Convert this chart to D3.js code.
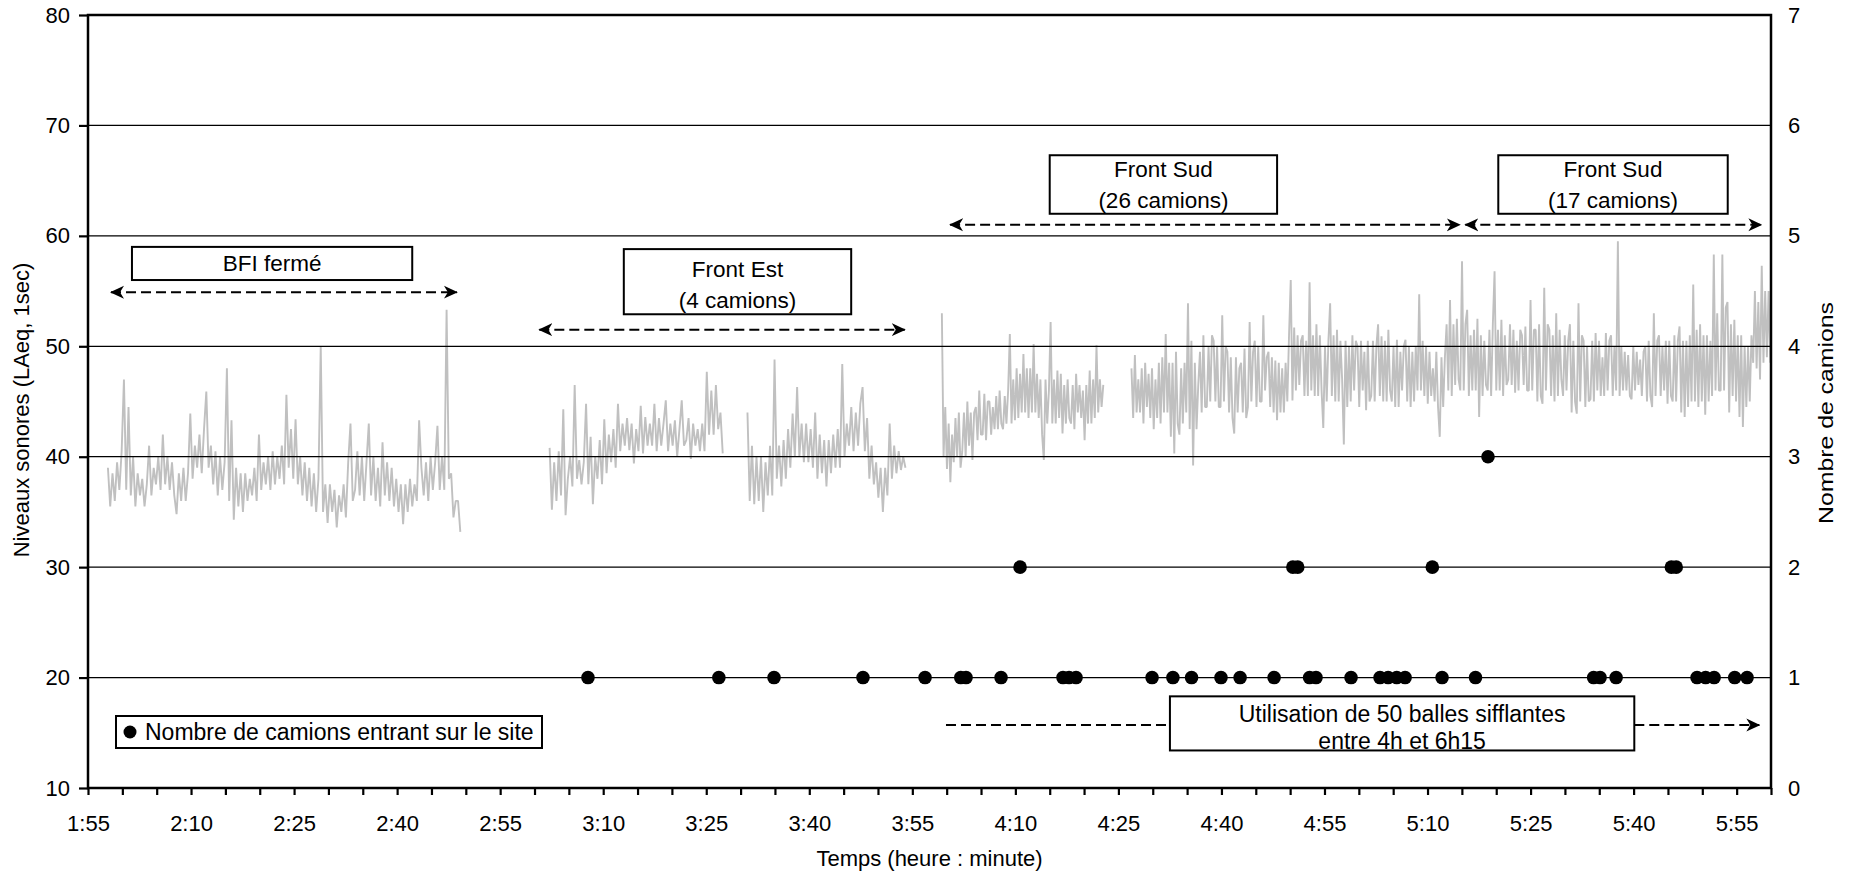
<!DOCTYPE html>
<html><head><meta charset="utf-8">
<script src="https://cdn.jsdelivr.net/npm/d3@7"></script>
<style>
html,body{margin:0;padding:0;background:#fff;}
svg{display:block;}
text{font-family:"Liberation Sans",Arial,Helvetica,sans-serif;fill:#000;}
</style></head><body>
<svg id="chart" width="1853" height="875"></svg>
<script>
// ---------- DATA ----------
const xTickLabels = ["1:55","2:10","2:25","2:40","2:55","3:10","3:25","3:40","3:55","4:10","4:25","4:40","4:55","5:10","5:25","5:40","5:55"];
const leftTicks = [10,20,30,40,50,60,70,80];
const rightTicks = [0,1,2,3,4,5,6,7];
const gridValues = [20,30,40,50,60,70];

const segmentStarts = ["1:57:54","3:02:12","3:31:00","3:59:18","4:26:54"];
const segmentEnds   = ["2:49:12","3:27:24","3:54:00","4:22:48","5:59:54"];

// readings, evenly spread over each period
const levels1 = [39,35.5,38.5, 36,39.5,37, 40.5,47,37, 44.5,36.5,40, 35.5,38.5,36.5, 38,35.5,37.5,
 41,36.5,39, 37.5,40,37, 42,37.5,40, 37,39.5,36.5, 34.8,38.5,36, 39,36,38.5, 43.9,38,41,
 39,42,38.5, 42.5,45.9,39, 41,37.5,40.5, 36.5,40,37, 39.5,48,36, 43.3,34.3,39, 35.5,38.5,35,
 38.5,36,38, 36.5,39,36, 42,37,39.5, 37.5,40,37, 40.5,37.5,40, 38,41,37.5, 45.6,39,42.5,
 38,43.4,37.5, 40,36.5,39.5, 36,39,35.5, 38.5,35,38, 50,35,37.5, 34,37.5,35, 37,33.6,36.5,
 35,37.5,34.5, 39.5,43,36, 37,40.5,36.5, 40,36,39.5, 43,36.5,40, 36,39,35.5, 41.3,36.5,39.5,
 36,39,35.5, 38,35,37.5, 33.9,37.5,35, 38,35.5,37.5, 36,43.3,39, 36.5,39.5,36, 40,37,39.5,
 42.8,37,40, 37,53.3,38, 38.5,34.5,36, 36,33.2];

const levels2 = [40.8,35.2,39.5, 36,40.5,36.5, 44.3,34.7,38, 40,37.3,46.5, 38,39.7,37.5, 39.5,44.8,37.5,
 41.8,35.7,40, 38,41.5,37.5, 43.4,38.5,42, 39.5,42.5,39, 44.8,40.5,43, 41,43.5,40.6, 43,39.4,42.5,
 40.5,44.6,40.3, 43.6,41,43, 41,44.8,40.5, 43.5,41,43, 45.1,40.5,43, 41,43.3,40, 42.5,45.1,41,
 41.5,43.5,39.8, 43,41,42.5, 40.5,43,40.5, 47.7,42,46, 42,46.5,42.5, 44,40.3];

const levels3 = [44,36,41, 35.7,40,36, 40,35,39.5, 36.5,41,36.5, 48.8,38,41, 37.3,41.5,38, 42.5,39,43.9,
 40,46.3,40, 43,39.5,43, 39.5,42.5,39, 44,38,42, 38.5,41.5,37.3, 41.5,38.5,42, 39,42.5,39,
 48.4,40,43, 41,44.5,40.5, 44,41,44.8, 46.3,40.5,43.5, 38,41,37.5, 39.5,36.3,39, 35,39,36.5,
 43,38,41, 38.5,40.5,38.8, 40,39];

const levels4 = [53,40,44.5,38.9, 43,37.7,42,39.5, 43.5,40,44,39, 40.5,44,40,45, 41,44,39.7,44,
 44.5,41.5,46,42, 42,45.7,41.5,45, 45,42,44.5,42.5, 45.5,42.5,46,43, 42.5,45.5,43,46,
 51.1,43,47,43.3, 48,43.5,47.5,44, 49.3,44,48,43.5, 48,44,50.2,44, 47.5,43.5,47,42,
 39.7,47,43,46, 52.2,43,47,43, 47.8,43.5,47.5,42.1, 46.5,43,47,43.5, 43,46.5,42.5,47.5,
 44,46.5,43.5,46, 41.5,46.5,43,47.8, 43,47,43.5,50.1, 44,47,44.5,46.5];

const levels5 = [48,43.5,49.2,44, 47,44,48,43, 48.5,44.5,47.5,43.5, 48,42.5,47,43.5, 48.5,43,49,44,
 51.1,44,48.5,41.8, 48.5,40.3,49.5,43, 42,48,43,48.5, 44,53.9,42.5,50.5, 39.2,48.5,42.5,46.5,
 49.5,44,51,44.5, 44.5,50,45,51, 50.5,45,50,44.5, 44.5,52.8,45,50, 49.5,44,49,43.5,
 42.1,49,44,48, 48.5,44,49.8,43.5, 44.5,52.2,45,49.5, 50.5,44.5,50,45, 45,52.8,46,49,
 49.5,44.5,49,44, 48.7,43.3,48.5,44, 48,44,48.5,45, 51,56,45.1,51.7, 46,51,46.5,50.5,
 51,45.5,50.5,45.5, 55.8,46,51,45.5, 52,45.5,51,46, 42.6,50,45,50.5, 53.9,45.5,51,45,
 51.5,45,50.5,47, 41.1,50.5,44.5,50, 45,51,46,50.5, 50,44.5,50.5,46, 49.5,44.2,50.5,45,
 45.5,50.5,45,50, 52,45.5,50.9,45, 50.5,45,51.5,46, 45,50,44.5,50.6, 44.5,49.5,46,50,
 50.6,45,50,44.5, 49.5,45,50,46, 54.7,46,50.5,45.5, 50,44.8,49.5,45.5, 48,45,49.5,44.5,
 41.8,49,44.5,49, 52,46,54.2,45.5, 52,46.5,52.5,47, 46,57.7,46,52, 53.3,45.5,51,46,
 51.5,46,52.5,43.6, 51,45.5,50.5,46.5, 46,51.5,45.5,52, 56.8,46,51.5,46, 52.4,45.5,51,46.5,
 47,52,46.5,51.5, 45.8,50.5,46,51.5, 51,46.5,51.8,46, 46,54.2,46,51.5, 51.5,45,52,45.5,
 44.8,55.3,46,52, 51.5,45.5,51,45, 53,45.5,51.5,47, 45.5,51,46,50.5, 52,44,50.5,45,
 43.9,53.9,45,51, 50.5,44.5,50,45, 45.2,50.5,45,51.2, 46,50.5,45.5,49, 45.5,51.2,46,50.5,
 51,45.5,50,46, 59.5,45.5,50,46, 49.5,46,49.2,45.5, 45.2,50,46,49.5, 46.5,48.8,45.5,49.5,
 50,45,50.5,45.5, 44.5,53,45.5,50.5, 51,45.5,50,46, 50.5,44.8,50.5,45.5, 45,51,45,50.5,
 51.8,44,50.5,43.6, 50.5,44.5,51,45, 55.6,45,51.5,44.5, 52,45,51,43.8, 51,45,50.5,45.5,
 58.3,46,53,46, 46,58.3,46,53.5, 54,44,52,45.5, 52.4,45,51,43.6, 51,42.7,50,44.5,
 50,45,51,48.5, 55,48,54,47, 57.3,48.5,55,49, 55,48.5];

// trucks entering the site
const truckTimes = ["3:07:47","3:26:50","3:34:52","3:47:49","3:56:51","4:02:03","4:02:49","4:07:55","4:10:41",
 "4:16:56","4:17:49","4:18:50","4:29:54","4:32:56","4:35:39","4:39:56","4:42:43","4:47:40","4:50:24","4:51:06",
 "4:52:50","4:53:46","4:58:52","5:03:05","5:04:16","5:05:31","5:06:44","5:10:42","5:12:07","5:16:59","5:18:48",
 "5:34:11","5:35:07","5:37:27","5:45:30","5:46:12","5:49:14","5:50:29","5:51:43","5:54:43","5:56:31"];
const truckCounts = [1,1,1,1,1,1,1,1,2, 1,1,1,1,1,1,1,1,1,2,2, 1,1,1,1,1,1,1,2,1,1,3, 1,1,1,2,2,1,1,1,1,1];

const noteTexts = [["BFI fermé"],["Front Est","(4 camions)"],["Front Sud","(26 camions)"],["Front Sud","(17 camions)"],["Utilisation de 50 balles sifflantes","entre 4h et 6h15"]];
const legendLabel = "Nombre de camions entrant sur le site";

// ---------- LAYOUT ----------
const m = {left:88, right:1771, top:15, bottom:788};
const parse = s => { const p = s.split(":").map(Number); return new Date(2000,0,1,p[0],p[1],p[2]||0); };
const x = d3.scaleTime().domain([parse("1:55"), parse("6:00")]).range([m.left, m.right]);
const yL = d3.scaleLinear().domain([10,80]).range([m.bottom, m.top]);
const yR = d3.scaleLinear().domain([0,7]).range([m.bottom, m.top]);

const svg = d3.select("#chart");
const defs = svg.append("defs");
defs.append("marker").attr("id","ah").attr("viewBox","0 0 14 14")
  .attr("refX",13).attr("refY",7).attr("markerWidth",14).attr("markerHeight",14)
  .attr("markerUnits","userSpaceOnUse").attr("orient","auto-start-reverse")
  .append("path").attr("d","M0,0.5 L14,7 L0,13.5 L4,7 Z").attr("fill","#000");

// noise level series
const levelArrays = [levels1,levels2,levels3,levels4,levels5];
const series = levelArrays.map((vals,k)=>{
  const t0 = +parse(segmentStarts[k]), t1 = +parse(segmentEnds[k]);
  return vals.map((v,i)=>({t:new Date(t0+(t1-t0)*i/(vals.length-1)), v}));
});
const line = d3.line().x(d=>x(d.t)).y(d=>yL(d.v));
svg.append("g").selectAll("path").data(series).join("path")
  .attr("d",line).attr("fill","none").attr("stroke","#c0c0c0").attr("stroke-width",1.9)
  .attr("stroke-linejoin","bevel");

// gridlines
svg.append("g").selectAll("line").data(gridValues).join("line")
  .attr("x1",m.left).attr("x2",m.right).attr("y1",d=>yL(d)).attr("y2",d=>yL(d))
  .attr("stroke","#000").attr("stroke-width",1.3);

// truck dots
svg.append("g").selectAll("circle").data(truckTimes.map((t,i)=>({t:parse(t),c:truckCounts[i]}))).join("circle")
  .attr("cx",d=>x(d.t)).attr("cy",d=>yR(d.c)).attr("r",6.8).attr("fill","#000");

// axes
const styleAxis = g => { g.select(".domain").remove(); g.selectAll("line").attr("stroke","#000").attr("stroke-width",2.2);
  g.selectAll("text").attr("font-size",22).attr("font-family",'"Liberation Sans",Arial,sans-serif'); };
svg.append("g").attr("transform",`translate(${m.left},0)`)
  .call(d3.axisLeft(yL).tickValues(leftTicks).tickSize(9).tickPadding(9)).call(styleAxis);
svg.append("g").attr("transform",`translate(${m.right},0)`)
  .call(d3.axisRight(yR).tickValues(rightTicks).tickSize(0).tickPadding(17).tickFormat(d3.format("d"))).call(styleAxis);
const fmt = d3.timeFormat("%-H:%M");
svg.append("g").attr("transform",`translate(0,${m.bottom})`)
  .call(d3.axisBottom(x).tickValues(d3.timeMinute.every(5).range(parse("1:55"), parse("6:00:01")))
    .tickSize(7).tickPadding(20).tickFormat(d=>xTickLabels.includes(fmt(d))?fmt(d):""))
  .call(styleAxis);

// frame
svg.append("rect").attr("x",m.left).attr("y",m.top).attr("width",m.right-m.left).attr("height",m.bottom-m.top)
  .attr("fill","none").attr("stroke","#000").attr("stroke-width",2.5);

// titles
svg.append("text").attr("x",(m.left+m.right)/2).attr("y",866).attr("text-anchor","middle")
  .attr("font-size",22).text("Temps (heure : minute)");
svg.append("text").attr("transform","translate(21,410) rotate(-90)").attr("dy","0.35em").attr("text-anchor","middle")
  .attr("font-size",22).text("Niveaux sonores (LAeq, 1sec)");
svg.append("text").attr("transform","translate(1826,413) rotate(-90)").attr("dy","0.35em").attr("text-anchor","middle")
  .attr("font-size",21).attr("textLength",222).attr("lengthAdjust","spacingAndGlyphs").text("Nombre de camions");

// annotation boxes (positions in data coordinates)
const boxes = [
  {t0:"2:01:24", t1:"2:42:12", v0:59.0, v1:56.0, gap:0, fs:22.5},
  {t0:"3:13:00", t1:"3:46:06", v0:58.8, v1:52.9, gap:31, fs:22.5, dy:3},
  {t0:"4:15:00", t1:"4:48:06", v0:67.3, v1:62.0, gap:31, fs:22.5},
  {t0:"5:20:18", t1:"5:53:42", v0:67.3, v1:62.0, gap:31, fs:22.5},
  {t0:"4:32:30", t1:"5:40:06", v0:18.3, v1:13.4, gap:27, fs:23, dy:4}
];
const arrows = [
  {t0:"1:58:21", t1:"2:48:42", v:54.9, both:true},
  {t0:"3:00:42", t1:"3:53:54", v:51.5, both:true},
  {t0:"4:00:30", t1:"5:14:42", v:61.0, both:true},
  {t0:"5:15:30", t1:"5:58:36", v:61.0, both:true},
  {t0:"3:59:54", t1:"4:32:30", v:15.7, both:false, head:false},
  {t0:"5:40:06", t1:"5:58:18", v:15.7, both:false, head:true}
];
const ag = svg.append("g");
arrows.forEach(a=>{
  const l = ag.append("line").attr("x1",x(parse(a.t0))).attr("x2",x(parse(a.t1)))
    .attr("y1",yL(a.v)).attr("y2",yL(a.v)).attr("stroke","#000").attr("stroke-width",2)
    .attr("stroke-dasharray","10,5");
  if (a.both) { l.attr("marker-start","url(#ah)").attr("marker-end","url(#ah)"); }
  else if (a.head) { l.attr("marker-end","url(#ah)"); }
});
boxes.forEach((b,i)=>{
  const x0 = x(parse(b.t0)), x1 = x(parse(b.t1)), y0 = yL(b.v0), y1 = yL(b.v1);
  ag.append("rect").attr("x",x0).attr("y",y0).attr("width",x1-x0).attr("height",y1-y0)
    .attr("fill","#fff").attr("stroke","#000").attr("stroke-width",2);
  const lines = noteTexts[i], cy = (y0+y1)/2 + (b.dy||0);
  lines.forEach((s,j)=>{
    ag.append("text").attr("x",(x0+x1)/2).attr("y",cy + (j-(lines.length-1)/2)*b.gap)
      .attr("dy","0.35em").attr("text-anchor","middle").attr("font-size",b.fs).text(s);
  });
});

// legend
const lg = svg.append("g");
lg.append("rect").attr("x",116).attr("y",716).attr("width",426).attr("height",32)
  .attr("fill","#fff").attr("stroke","#000").attr("stroke-width",2);
lg.append("circle").attr("cx",130).attr("cy",732).attr("r",6.5).attr("fill","#000");
lg.append("text").attr("x",145).attr("y",732).attr("dy","0.35em").attr("font-size",23).text(legendLabel);
</script>
</body></html>
